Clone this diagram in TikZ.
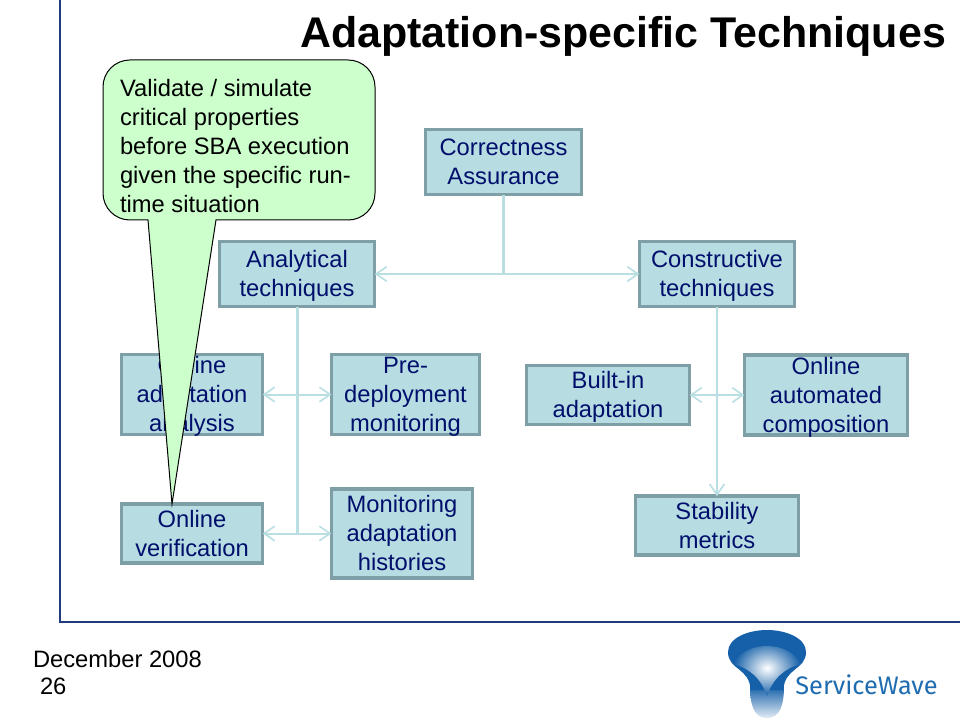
\documentclass[tikz,border=0pt]{standalone}
\usepackage{fontspec}
\setmainfont{Liberation Sans}
\newfontfamily\logofont{Fira Sans}
\usetikzlibrary{arrows.meta}
\definecolor{boxfill}{HTML}{B7DDE3}
\definecolor{boxline}{HTML}{7F9FA6}
\definecolor{boxtext}{HTML}{000F6B}
\definecolor{linkc}{HTML}{B9DFE3}
\definecolor{framec}{HTML}{1F3D7C}
\definecolor{callfill}{HTML}{CCFFCC}
\definecolor{logoblue}{HTML}{1560A8}
\definecolor{logotext}{HTML}{1F6DB0}
\newcommand{\bodysize}{\fontsize{17.8}{21.75}\selectfont}
\newcommand{\lstrut}{\rule[-2.8pt]{0pt}{14.8pt}}
\newcommand{\tl}[1]{\smash{\raisebox{-7.5pt}{#1}}}
\tikzset{
  every node/.style={inner sep=0pt,outer sep=0pt},
  box/.style={draw=boxline,line width=2.6pt,fill=boxfill,text=boxtext,align=center,font=\bodysize,
    execute at begin node=\lstrut,execute at end node=\lstrut},
  trunk/.style={draw=linkc,line width=2.25pt},
  link/.style={draw=linkc,line width=1.5pt,{Straight Barb[length=8pt,width=11pt,line width=1.2pt]}-{Straight Barb[length=8pt,width=11pt,line width=1.2pt]}},
  linkone/.style={draw=linkc,line width=1.5pt,-{Straight Barb[length=8pt,width=11pt,line width=1.2pt]}},
  plain/.style={font=\bodysize,text=black,align=left}
}
\begin{document}
\begin{tikzpicture}[x=0.75pt,y=-0.75pt]
\useasboundingbox (0,0) rectangle (960,720);
\fill[white] (0,0) rectangle (960,720);
% frame
\coordinate (ftop) at (60,0);
\coordinate (fcorner) at (60,622);
\coordinate (fright) at (960,622);
\draw[framec,line width=1.7pt] (ftop) -- (fcorner) -- (fright);
% title
\node[anchor=center,font=\fontsize{32.2}{38}\bfseries\selectfont] (title) at (623,36) {Adaptation-specific Techniques};
% boxes
\node[box,minimum width=117pt,minimum height=49pt] (cor) at (503.5,162) {\tl{Correctness}\\\tl{Assurance}};
\node[box,minimum width=116.5pt,minimum height=49pt] (ana) at (297,274) {\tl{Analytical}\\\tl{techniques}};
\node[box,minimum width=116.5pt,minimum height=49pt] (con) at (717,274) {\tl{Constructive}\\\tl{techniques}};
\node[box,minimum width=106pt,minimum height=60pt] (oaa) at (192,394.5) {\tl{Online}\\\tl{adaptation}\\\tl{analysis}};
\node[box,minimum width=111pt,minimum height=60pt] (pre) at (405.5,394.5) {\tl{Pre-}\\\tl{deployment}\\\tl{monitoring}};
\node[box,minimum width=122.5pt,minimum height=44pt] (bui) at (608,395) {\tl{Built-in}\\\tl{adaptation}};
\node[box,minimum width=122.5pt,minimum height=60pt] (aut) at (826,395) {\tl{Online}\\\tl{automated}\\\tl{composition}};
\node[box,minimum width=106pt,minimum height=44pt] (ver) at (192,533.5) {\tl{Online}\\\tl{verification}};
\node[box,minimum width=106pt,minimum height=66.5pt] (mon) at (402,533.5) {\tl{Monitoring}\\\tl{adaptation}\\\tl{histories}};
\node[box,minimum width=122.5pt,minimum height=44pt] (sta) at (717,525.5) {\tl{Stability}\\\tl{metrics}};
% connectors
\draw[trunk] (cor.south) -- (cor.south |- ana.east);
\draw[link] (ana.east) -- (con.west);
\draw[trunk] (ana.south) -- (ana.south |- ver.east);
\draw[link] (oaa.east) -- (pre.west);
\draw[link] (ver.east) -- (mon.west);
\draw[linkone] (con.south) -- (sta.north);
\draw[link] (bui.east) -- (aut.west);
% callout
\draw[black,line width=0.75pt,fill=callfill]
  (103,87) .. controls (103,72) and (115,60) .. (130,60) -- (348,60)
  .. controls (363,60) and (375,72) .. (375,87) -- (375,193)
  .. controls (375,208) and (363,220) .. (348,220) -- (216,220) -- (172,504) -- (148,220) -- (130,220)
  .. controls (115,220) and (103,208) .. (103,193) -- cycle;
\node[plain,anchor=north west] (calltext) at (120,79) {Validate / simulate\\critical properties\\before SBA execution\\given the specific run-\\time situation};
% footer
\node[plain,anchor=west,text=black] (date) at (33,659) {December 2008};
\node[plain,anchor=west,text=black] (page) at (40,686) {26};
% logo
\shade[top color=logoblue,bottom color=white!88!logoblue]
  (750,686) .. controls (750,705) and (754,718) .. (767,718) .. controls (780,718) and (784,705) .. (784,686) -- cycle;
\fill[logoblue] (728,652) .. controls (728,638) and (748,630) .. (767,630) .. controls (786,630) and (806,638) .. (806,652)
  .. controls (806,670) and (784,668) .. (783.5,690) -- (750.5,690) .. controls (750,668) and (728,670) .. (728,652) -- cycle;
\shade[shading=radial,inner color=white,outer color=logoblue]
  (733,664) .. controls (745,640) and (789,640) .. (801,664) .. controls (785,668) and (773,678) .. (767,696)
  .. controls (761,678) and (749,668) .. (733,664) -- cycle;
\node[anchor=center,font=\logofont\fontsize{19}{22}\selectfont,text=logotext] (logotext) at (866.5,684.5) {ServiceWave};
\end{tikzpicture}
\end{document}
